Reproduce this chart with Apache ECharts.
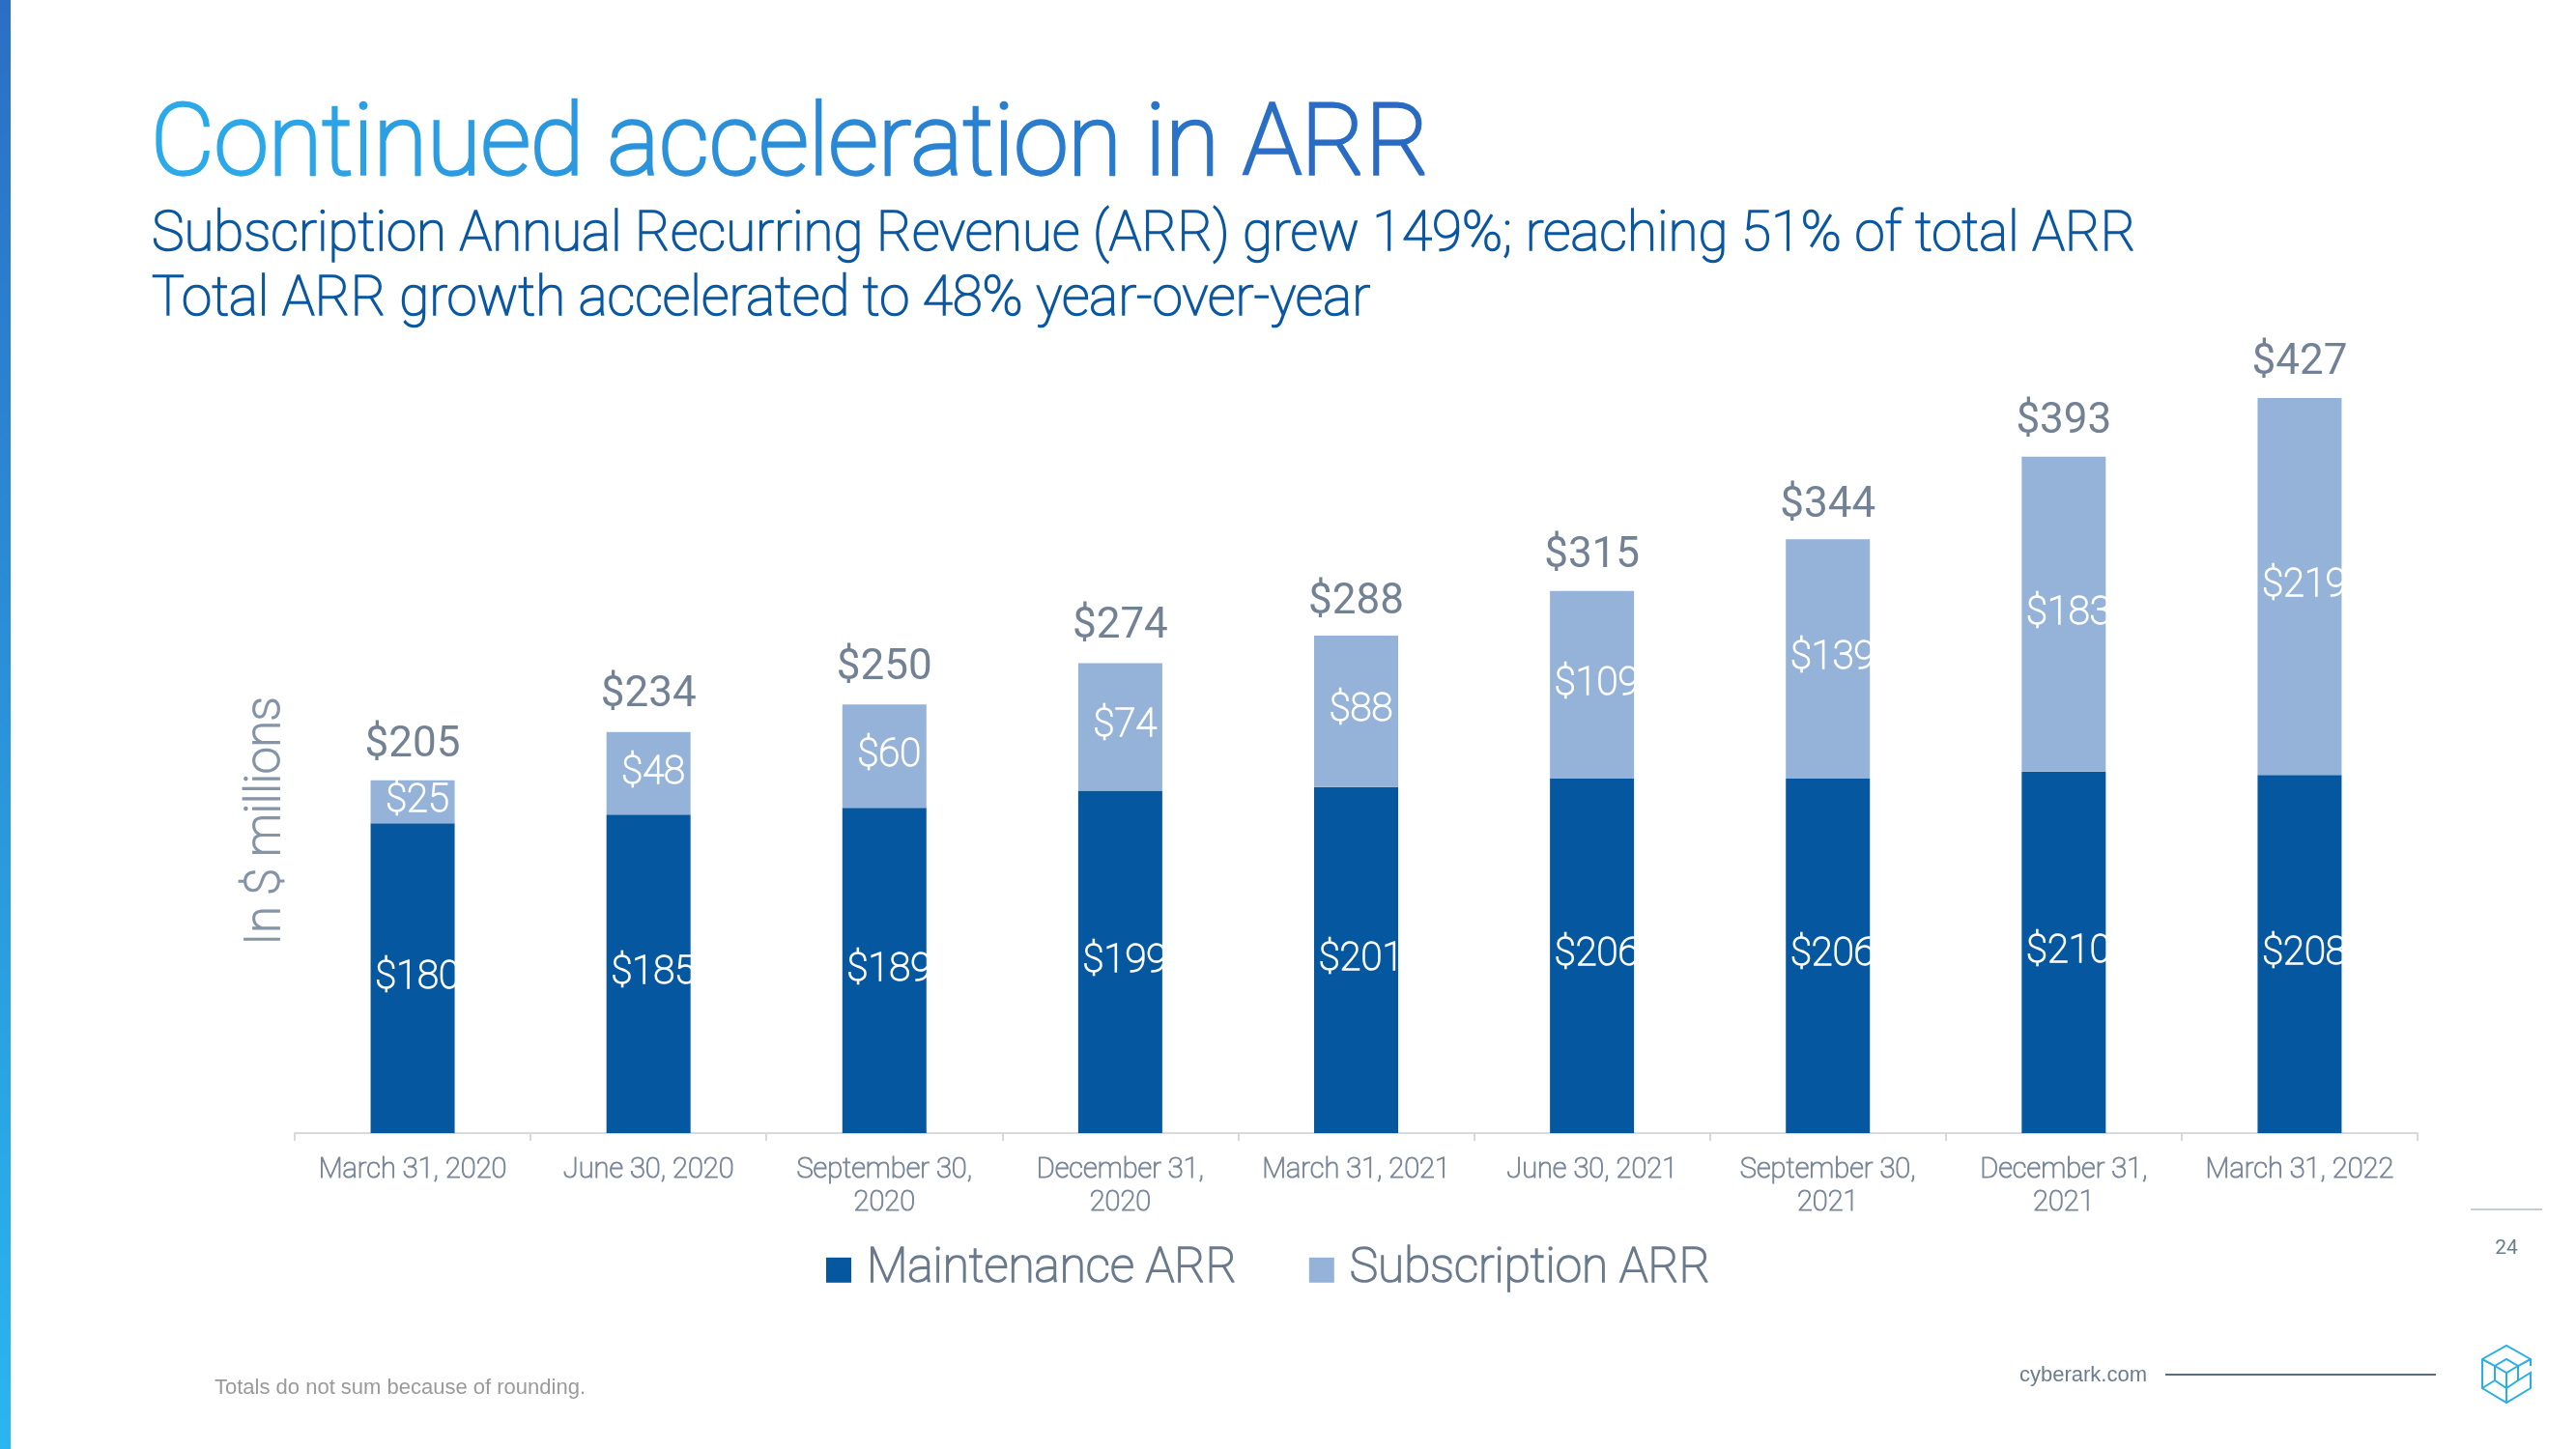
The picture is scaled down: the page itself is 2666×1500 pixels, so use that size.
<!DOCTYPE html>
<html>
<head>
<meta charset="utf-8">
<script src="https://cdn.jsdelivr.net/npm/echarts@6/dist/echarts.min.js"></script>
<style>
html,body{margin:0;padding:0;background:#fff;}
#chart{width:2666px;height:1500px;}
</style>
</head>
<body>
<div id="chart"></div>
<script>
const categories = ['March 31, 2020', 'June 30, 2020', 'September 30,\n2020', 'December 31,\n2020', 'March 31, 2021', 'June 30, 2021', 'September 30,\n2021', 'December 31,\n2021', 'March 31, 2022'];
const maintenanceARR = [180, 185, 189, 199, 201, 206, 206, 210, 208];
const subscriptionARR = [25, 48, 60, 74, 88, 109, 139, 183, 219];
const totalARR = [205, 234, 250, 274, 288, 315, 344, 393, 427];
const seriesNames = ['Maintenance ARR', 'Subscription ARR'];

const titleText = 'Continued acceleration in ARR';
const subtitle1 = 'Subscription Annual Recurring Revenue (ARR) grew 149%; reaching 51% of total ARR';
const subtitle2 = 'Total ARR growth accelerated to 48% year-over-year';
const yAxisTitle = 'In $ millions';
const footnote = 'Totals do not sum because of rounding.';
const siteText = 'cyberark.com';
const pageNum = '24';

// "Light" look: Roboto Thin thickened by an outline of the same colour
const FF = 'Roboto';
const TW = 100;

function lerpColor(a, b, t) {
  const pa = [1, 3, 5].map(i => parseInt(a.substr(i, 2), 16));
  const pb = [1, 3, 5].map(i => parseInt(b.substr(i, 2), 16));
  return 'rgb(' + pa.map((v, i) => Math.round(v + (pb[i] - v) * t)).join(',') + ')';
}
const titleChars = titleText.split('');
const titleRich = {};
titleChars.forEach((ch, i) => {
  const c = lerpColor('#2baaea', '#2a6ac2', i / (titleChars.length - 1));
  titleRich['c' + i] = {fontFamily: FF, fontWeight: TW, fontSize: 101.6, fill: c, stroke: c, lineWidth: 3.4};
});
const titleRichText = titleChars.map((ch, i) => '{c' + i + '|' + ch + '}').join('');

const chart = echarts.init(document.getElementById('chart'), null, {renderer: 'canvas'});

const logoBlue = '#2aaee6';
const cx = 2594, cy = 1422;
const subColor = '#0a57a2';
const axisColor = '#7a8899';
const legendColor = '#6a7a8c';
const yTitleColor = '#8594a6';

const option = {
  backgroundColor: '#ffffff',
  animation: false,
  grid: {left: 305, right: 164, top: 282, bottom: 327, containLabel: false},
  legend: {
    data: seriesNames,
    left: 850,
    top: 1284,
    icon: 'rect',
    itemWidth: 26,
    itemHeight: 26,
    itemGap: 74,
    textStyle: {fontFamily: FF, fontWeight: TW, fontSize: 49.5, color: legendColor, textBorderColor: legendColor, textBorderWidth: 1.6, padding: [0, 0, 0, 11]}
  },
  xAxis: {
    type: 'category',
    data: categories,
    axisLine: {show: true, lineStyle: {color: '#d9d9d9', width: 2}},
    axisTick: {show: true, length: 8, lineStyle: {color: '#d9d9d9', width: 2}},
    axisLabel: {fontFamily: FF, fontWeight: TW, fontSize: 29, lineHeight: 34, color: axisColor, textBorderColor: axisColor, textBorderWidth: 1.1, margin: 22, interval: 0}
  },
  yAxis: {
    type: 'value', min: 0, max: 500, show: false,
    splitLine: {show: false}
  },
  series: [
    {
      name: seriesNames[0], type: 'bar', stack: 'arr', barWidth: 87,
      data: maintenanceARR,
      itemStyle: {color: '#0558a0'},
      label: {show: true, position: 'inside', offset: [5, 0], formatter: p => '$' + p.value, color: '#ffffff',
        textBorderColor: '#ffffff', textBorderWidth: 1.4, fontFamily: FF, fontWeight: TW, fontSize: 40}
    },
    {
      name: seriesNames[1], type: 'bar', stack: 'arr', barWidth: 87,
      data: subscriptionARR,
      itemStyle: {color: '#95b3d8'},
      label: {show: true, position: 'inside', offset: [5, 0], formatter: p => '$' + p.value, color: '#ffffff',
        textBorderColor: '#ffffff', textBorderWidth: 1.4, fontFamily: FF, fontWeight: TW, fontSize: 40}
    },
    {
      name: 'Total', type: 'scatter', data: totalARR, symbolSize: 0, silent: true, z: 5,
      label: {show: true, position: 'top', distance: 14, formatter: p => '$' + p.value,
        color: '#4f6178', fontFamily: 'Roboto', fontWeight: 400, fontSize: 44}
    }
  ],
  graphic: [
    {type: 'rect', shape: {x: 0, y: 0, width: 11, height: 1500},
      style: {fill: new echarts.graphic.LinearGradient(0, 0, 0, 1, [{offset: 0, color: '#2b6fc4'}, {offset: 1, color: '#2ab6f0'}])}},
    {type: 'text', x: 156, y: 155,
      style: {text: titleRichText, rich: titleRich, font: TW + ' 101.6px ' + FF, textVerticalAlign: 'middle'}},
    {type: 'text', x: 157, y: 245,
      style: {text: subtitle1, font: TW + ' 56.5px ' + FF, fill: subColor, stroke: subColor, lineWidth: 1.6, textVerticalAlign: 'middle'}},
    {type: 'text', x: 157, y: 312,
      style: {text: subtitle2, font: TW + ' 56.5px ' + FF, fill: subColor, stroke: subColor, lineWidth: 1.6, textVerticalAlign: 'middle'}},
    {type: 'text', x: 276, y: 850, rotation: Math.PI / 2,
      style: {text: yAxisTitle, font: TW + ' 50px ' + FF, fill: yTitleColor, stroke: yTitleColor, lineWidth: 1.8, textAlign: 'center', textVerticalAlign: 'middle'}},
    {type: 'text', x: 222, y: 1437,
      style: {text: footnote, font: '22px "Liberation Sans", Arial', fill: '#9a9a9a', textVerticalAlign: 'middle'}},
    {type: 'text', x: 2222, y: 1424,
      style: {text: siteText, font: '22px "Liberation Sans", Arial', fill: '#6b7c8d', textAlign: 'right', textVerticalAlign: 'middle'}},
    {type: 'line', shape: {x1: 2241, y1: 1423, x2: 2521, y2: 1423}, style: {stroke: '#5a6b7c', lineWidth: 2}},
    {type: 'line', shape: {x1: 2557, y1: 1252, x2: 2631, y2: 1252}, style: {stroke: '#8a9aab', lineWidth: 1}},
    {type: 'text', x: 2594, y: 1293,
      style: {text: pageNum, font: '21px Roboto', fill: '#6b7c8d', textAlign: 'center', textVerticalAlign: 'middle'}},
    {type: 'polyline', shape: {points: [[cx + 25, cy - 8], [cx + 25, cy - 15], [cx, cy - 29], [cx - 25, cy - 15], [cx - 25, cy + 15], [cx, cy + 30], [cx + 25, cy + 15], [cx + 25, cy - 1], [cx + 12, cy + 7], [cx + 12, cy - 8], [cx, cy - 15], [cx - 12, cy - 8], [cx - 12, cy + 7], [cx, cy + 15], [cx + 12, cy + 7]]},
      style: {stroke: logoBlue, lineWidth: 2, fill: null}},
    {type: 'polyline', shape: {points: [[cx - 25, cy - 15], [cx - 12, cy - 8], [cx, cy - 1], [cx + 12, cy - 8], [cx + 25, cy - 15]]},
      style: {stroke: logoBlue, lineWidth: 2, fill: null}},
    {type: 'polyline', shape: {points: [[cx, cy - 1], [cx, cy + 15]]},
      style: {stroke: logoBlue, lineWidth: 2, fill: null}},
    {type: 'polyline', shape: {points: [[cx - 25, cy + 15], [cx - 12, cy + 7]]},
      style: {stroke: logoBlue, lineWidth: 2, fill: null}},
    {type: 'polyline', shape: {points: [[cx, cy + 15], [cx, cy + 30]]},
      style: {stroke: logoBlue, lineWidth: 2, fill: null}}
  ]
};
chart.setOption(option);
</script>
</body>
</html>
